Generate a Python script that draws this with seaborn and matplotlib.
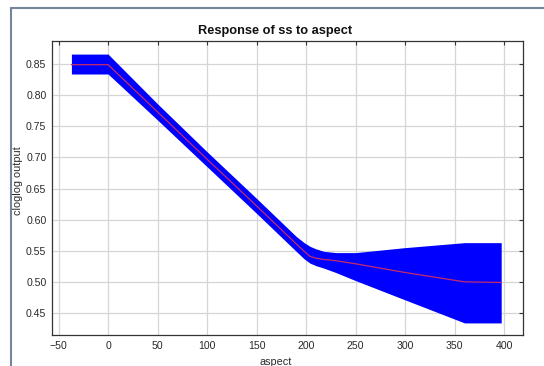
import numpy as np
import pandas as pd
import matplotlib
matplotlib.use("Agg")
import matplotlib.pyplot as plt
from matplotlib.lines import Line2D
import seaborn as sns

# Response curve of ss to aspect: mean and upper/lower envelope
aspect = [-37, 0, 50, 100, 150, 190, 198, 204, 210, 218, 230, 250, 300, 360, 397]
mean_out = [0.849, 0.849, 0.773, 0.697, 0.622, 0.561, 0.549, 0.541, 0.538,
            0.536, 0.534, 0.529, 0.515, 0.500, 0.499]
upper_out = [0.866, 0.866, 0.786, 0.709, 0.634, 0.573, 0.563, 0.557, 0.553,
             0.549, 0.547, 0.547, 0.555, 0.563, 0.563]
lower_out = [0.834, 0.834, 0.760, 0.685, 0.610, 0.549, 0.537, 0.530, 0.526,
             0.522, 0.515, 0.502, 0.471, 0.434, 0.434]

x_ticks = [-50, 0, 50, 100, 150, 200, 250, 300, 350, 400]
y_ticks = [0.45, 0.50, 0.55, 0.60, 0.65, 0.70, 0.75, 0.80, 0.85]

df = pd.DataFrame({"aspect": aspect, "mean": mean_out,
                   "upper": upper_out, "lower": lower_out})

sns.set_theme(style="white")
plt.rcParams["font.family"] = ["Liberation Sans", "DejaVu Sans"]

W, H = 544, 366
fig = plt.figure(figsize=(W / 100, H / 100), dpi=100, facecolor="white")
ax = fig.add_axes([52 / W, 1 - 335 / H, 471 / W, 294.3 / H])

# window-style frame around the plot panel
frame_col = "#75859a"
fig.add_artist(Line2D([10.5 / W, 10.5 / W], [0, 1 - 8.3 / H],
                      transform=fig.transFigure, color=frame_col, lw=1.5))
fig.add_artist(Line2D([10.5 / W, 1], [1 - 8.3 / H, 1 - 8.3 / H],
                      transform=fig.transFigure, color=frame_col, lw=1.5))

ax.fill_between(df["aspect"], df["lower"], df["upper"],
                color="#0000ff", linewidth=0, zorder=2)
sns.lineplot(data=df, x="aspect", y="mean", ax=ax, color="#c82a6a",
             linewidth=0.9, zorder=3)

ax.set_xlim(-56.6, 419)
ax.set_ylim(0.4146, 0.8875)
ax.set_xticks(x_ticks)
ax.set_yticks(y_ticks)
ax.set_yticklabels([f"{v:.2f}" for v in y_ticks])
ax.grid(True, color="#d6d6d6", linewidth=0.9, zorder=0)
ax.set_axisbelow(True)

for s in ax.spines.values():
    s.set_color("#333333")
    s.set_linewidth(0.9)

ax.tick_params(axis="both", which="both", direction="in", length=3,
               width=0.8, colors="#333333", labelsize=7.6, top=True,
               right=True, labelcolor="#2a2a2a", pad=4)

ax.set_xlabel("")
ax.set_ylabel("")
fig.text(275 / W, 1 - 31 / H, "Response of ss to aspect", fontsize=9.2,
         fontweight="bold", color="#111111", ha="center", va="center")
fig.text(276 / W, 1 - 362 / H, "aspect", fontsize=7.8, color="#2a2a2a",
         ha="center", va="center")
fig.text(18 / W, 1 - 181 / H, "cloglog output", fontsize=7.8,
         color="#2a2a2a", ha="center", va="center", rotation=90)

fig.savefig("out.png", dpi=100, facecolor="white")
